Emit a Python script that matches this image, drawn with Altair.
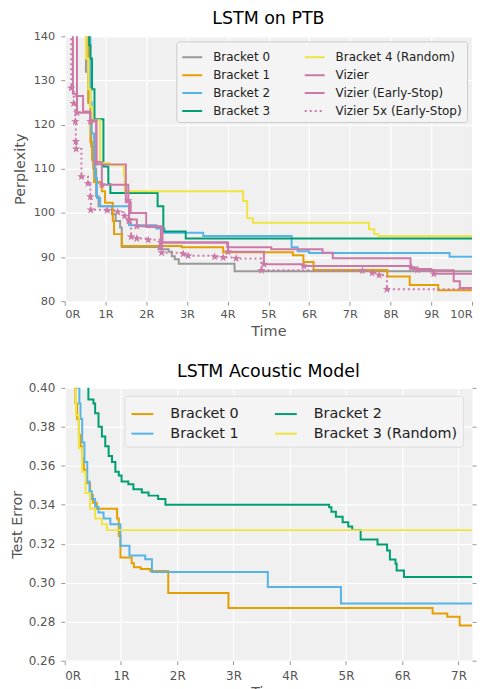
import altair as alt
import pandas as pd

# ---------------- LSTM on PTB (time in R units, perplexity) ----------------
ptb_b0_t = [0.45, 0.52, 0.58, 0.65, 0.70, 0.77, 0.83, 1.16, 1.25, 1.36, 1.40, 2.30, 2.55, 2.63, 2.70, 2.80, 4.17, 10.0]
ptb_b0_v = [145, 132, 125, 115, 110, 103.8, 101.5, 99.7, 98.2, 96.7, 92.3, 91.8, 91.2, 90.2, 89.5, 88.5, 86.8, 86.8]

ptb_b1_t = [0.50, 0.58, 0.63, 0.67, 0.72, 0.91, 0.99, 1.18, 1.21, 1.40, 2.87, 3.89, 5.60, 5.86, 6.11, 7.92, 8.47, 9.17, 10.0]
ptb_b1_v = [145, 125, 116, 112, 107, 104.9, 102.3, 98.2, 95.2, 92.5, 92.2, 91.1, 90.4, 88.9, 87.1, 85.6, 83.7, 82.5, 82.5]

ptb_b2_t = [0.60, 0.63, 0.66, 0.72, 0.75, 0.79, 0.87, 1.58, 2.25, 2.45, 3.40, 5.57, 5.72, 6.00, 9.45, 10.0]
ptb_b2_v = [145, 125, 118, 112, 107.9, 103.4, 101.5, 97.2, 96.5, 95.5, 94.8, 92.2, 91.3, 90.9, 90.1, 90.1]

ptb_b3_t = [0.55, 0.60, 0.63, 0.67, 0.73, 0.95, 1.07, 1.12, 2.28, 2.42, 2.97, 10.0]
ptb_b3_v = [145, 138, 135, 128, 121.2, 110.5, 106.5, 104.5, 101.5, 95.8, 94.2, 94.2]

ptb_b4_t = [0.45, 0.52, 0.58, 0.63, 0.67, 0.87, 1.10, 1.45, 1.47, 4.38, 4.48, 4.62, 7.47, 7.60, 7.70, 10.0]
ptb_b4_v = [145, 135, 128, 124, 121, 111.3, 110.8, 108.5, 104.9, 102.7, 98.8, 97.8, 96.3, 95.2, 94.8, 94.8]

ptb_viz_t = [0.15, 0.20, 0.28, 0.45, 0.62, 0.78, 1.50, 1.62, 2.00, 2.40, 3.99, 5.07, 6.33, 6.58, 8.49, 8.55, 9.00, 9.55, 9.70, 10.0]
ptb_viz_v = [150, 127, 126.5, 123, 121, 111, 102.5, 100, 96.8, 93.3, 92.2, 91.8, 91.0, 89.75, 87.6, 87.3, 87.0, 84.5, 83.0, 83.0]

ptb_es_t = [0.20, 0.30, 0.63, 0.77, 0.91, 1.56, 1.58, 1.77, 2.36, 4.01, 4.89, 5.87, 8.51, 8.66, 9.06, 10.0]
ptb_es_v = [145, 122.7, 120.7, 111.5, 106.4, 102.8, 98.5, 97.0, 93.3, 91.2, 88.4, 88.0, 87.6, 87.1, 86.2, 86.2]
ptb_es_m = [0, 1, 1, 1, 1, 1, 1, 1, 1, 1, 1, 1, 1, 1, 1, 0]

ptb_5x_t = [0.14, 0.16, 0.22, 0.26, 0.27, 0.28, 0.41, 0.57, 0.63, 0.64, 1.04, 1.30, 1.47, 1.58, 1.63,
            1.77, 2.05, 2.36, 2.38, 2.91, 3.03, 3.68, 3.89, 4.21, 4.83, 7.31, 7.55, 7.72, 7.91, 10.0]
ptb_5x_v = [145, 128.3, 124.8, 120.7, 116.2, 114.5, 108.2, 106.7, 103.7, 100.7, 100.6, 100.2, 99.3, 98.2, 94.6,
            94.2, 93.9, 92.3, 91.0, 90.7, 90.3, 90.1, 89.9, 89.7, 87.0, 86.9, 86.4, 85.9, 82.7, 82.7]
ptb_5x_m = [0, 1, 1, 1, 1, 1, 1, 1, 1, 1, 1, 1, 1, 1, 1,
            1, 1, 1, 1, 1, 1, 1, 1, 1, 1, 1, 1, 1, 1, 0]

# ---------------- LSTM Acoustic Model (time in R units, test error) ----------------
ac_b0_t = [0.16, 0.19, 0.22, 0.25, 0.28, 0.31, 0.34, 0.39, 0.45, 0.50, 0.57, 0.93, 0.96, 0.99, 1.19, 1.23, 1.35, 1.52, 1.84, 2.91, 6.54, 6.80, 7.02, 7.24]
ac_b0_v = [0.400, 0.392, 0.384, 0.376, 0.370, 0.364, 0.358, 0.351, 0.345, 0.341, 0.338, 0.333, 0.324, 0.313, 0.310, 0.308, 0.307, 0.306, 0.2947, 0.2871, 0.2842, 0.2825, 0.278, 0.278]

ac_b1_t = [0.19, 0.26, 0.28, 0.31, 0.35, 0.40, 0.44, 0.48, 0.54, 0.60, 0.69, 0.81, 0.99, 1.15, 1.43, 1.55, 3.61, 4.91, 7.24]
ac_b1_v = [0.400, 0.392, 0.384, 0.372, 0.362, 0.352, 0.347, 0.343, 0.339, 0.336, 0.333, 0.330, 0.319, 0.314, 0.312, 0.3055, 0.2978, 0.2893, 0.2893]

ac_b2_t = [0.40, 0.42, 0.51, 0.54, 0.60, 0.66, 0.72, 0.78, 0.84, 0.90, 0.96, 1.01, 1.13, 1.22, 1.37, 1.49, 1.66, 1.79,
           4.70, 4.74, 4.82, 4.94, 5.04, 5.11, 5.26, 5.56, 5.73, 5.78, 5.88, 5.90, 6.03, 7.24]
ac_b2_v = [0.400, 0.394, 0.392, 0.387, 0.380, 0.375, 0.370, 0.365, 0.362, 0.357, 0.355, 0.352, 0.3506, 0.348, 0.3463, 0.3447, 0.343, 0.340,
           0.3387, 0.3364, 0.3339, 0.331, 0.3288, 0.3271, 0.3222, 0.3196, 0.3165, 0.3119, 0.3097, 0.3063, 0.3029, 0.3029]

ac_b3_t = [0.17, 0.20, 0.25, 0.31, 0.37, 0.45, 0.54, 0.66, 0.75, 7.24]
ac_b3_v = [0.400, 0.386, 0.369, 0.357, 0.346, 0.338, 0.333, 0.330, 0.327, 0.327]

# legend order (filled column by column, 2 columns) and colours
TOP_ORDER = ["Bracket 0", "Bracket 1", "Bracket 2", "Bracket 3",
             "Bracket 4 (Random)", "Vizier", "Vizier (Early-Stop)", "Vizier 5x (Early-Stop)"]
TOP_COLORS = ["#999999", "#E69F00", "#56B4E9", "#009E73",
              "#F0E442", "#CC79A7", "#CC79A7", "#CC79A7"]
TOP_DASH = [[1, 0], [1, 0], [1, 0], [1, 0], [1, 0], [1, 0], [1, 0], [2, 3]]
BOT_ORDER = ["Bracket 0", "Bracket 1", "Bracket 2", "Bracket 3 (Random)"]
BOT_COLORS = ["#E69F00", "#56B4E9", "#009E73", "#F0E442"]

# five-pointed star marker as a custom symbol path
STAR = ("M0,-1L0.235,-0.324L0.951,-0.309L0.38,0.124L0.588,0.809L0,0.4"
        "L-0.588,0.809L-0.38,0.124L-0.951,-0.309L-0.235,-0.324Z")


def frame(items):
    rows = []
    for name, ts, vs, ms in items:
        for k, (t, v) in enumerate(zip(ts, vs)):
            rows.append({"series": name, "t": t, "v": v, "m": ms[k] if ms else 0})
    return pd.DataFrame(rows)


ptb_df = frame([
    ("Bracket 0", ptb_b0_t, ptb_b0_v, None),
    ("Bracket 1", ptb_b1_t, ptb_b1_v, None),
    ("Bracket 2", ptb_b2_t, ptb_b2_v, None),
    ("Bracket 3", ptb_b3_t, ptb_b3_v, None),
    ("Bracket 4 (Random)", ptb_b4_t, ptb_b4_v, None),
    ("Vizier", ptb_viz_t, ptb_viz_v, None),
    ("Vizier (Early-Stop)", ptb_es_t, ptb_es_v, ptb_es_m),
    ("Vizier 5x (Early-Stop)", ptb_5x_t, ptb_5x_v, ptb_5x_m),
])
ac_df = frame([
    ("Bracket 0", ac_b0_t, ac_b0_v, None),
    ("Bracket 1", ac_b1_t, ac_b1_v, None),
    ("Bracket 2", ac_b2_t, ac_b2_v, None),
    ("Bracket 3 (Random)", ac_b3_t, ac_b3_v, None),
])

FONT = "DejaVu Sans"

# ---------------- top chart ----------------
top_legend = alt.Legend(
    title=None, orient="none", legendX=112, legendY=5, columns=2, columnPadding=30,
    rowPadding=1, symbolType="stroke", symbolSize=400, symbolStrokeWidth=2,
    labelFontSize=12, labelOffset=10, labelFont=FONT, labelColor="#222222",
    padding=5, fillColor="#f4f4f4", strokeColor="#cccccc", cornerRadius=3, labelLimit=300)

top_lines = alt.Chart(ptb_df).mark_line(interpolate="step-after", strokeWidth=2, clip=True).encode(
    x=alt.X("t:Q", scale=alt.Scale(domain=[0, 10], nice=False),
            axis=alt.Axis(values=list(range(11)), labelExpr="datum.value + 'R'", title="Time",
                          labelFontSize=11.4, labelPadding=3, titlePadding=5)),
    y=alt.Y("v:Q", scale=alt.Scale(domain=[80, 140], nice=False, zero=False),
            axis=alt.Axis(values=[80, 90, 100, 110, 120, 130, 140], title="Perplexity",
                          labelFontSize=11.4, labelPadding=6, titlePadding=6)),
    color=alt.Color("series:N", scale=alt.Scale(domain=TOP_ORDER, range=TOP_COLORS), legend=top_legend),
    strokeDash=alt.StrokeDash("series:N", scale=alt.Scale(domain=TOP_ORDER, range=TOP_DASH), legend=top_legend),
)
top_stars = alt.Chart(ptb_df).transform_filter("datum.m == 1").mark_point(
    shape=STAR, filled=True, size=80, color="#CC79A7", opacity=1, clip=True).encode(
    x="t:Q", y="v:Q")
top = alt.layer(top_lines, top_stars).properties(
    width=409, height=266, title=alt.TitleParams("LSTM on PTB", offset=2.5))

# ---------------- bottom chart ----------------
bot_legend = alt.Legend(
    title=None, orient="none", legendX=60, legendY=8, columns=2, columnPadding=32,
    rowPadding=1, symbolType="stroke", symbolSize=484, symbolStrokeWidth=2,
    labelFontSize=14.4, labelOffset=16, labelFont=FONT, labelColor="#222222",
    padding=6, fillColor="#f4f4f4", strokeColor="#dddddd", cornerRadius=3, labelLimit=300)

bot_yscale = alt.Scale(domain=[0.26, 0.40], nice=False, zero=False)
bot_yvals = [0.26, 0.28, 0.30, 0.32, 0.34, 0.36, 0.38, 0.40]

bot_lines = alt.Chart(ac_df).mark_line(interpolate="step-after", strokeWidth=2, clip=True).encode(
    x=alt.X("t:Q", scale=alt.Scale(domain=[0, 7.24], nice=False),
            axis=alt.Axis(values=[0, 1, 2, 3, 4, 5, 6, 7], labelExpr="datum.value + 'R'", title="Time",
                          labelFontSize=12, labelPadding=6, titlePadding=4)),
    y=alt.Y("v:Q", scale=bot_yscale,
            axis=alt.Axis(values=bot_yvals, format=".2f", title="Test Error",
                          labelFontSize=12, labelPadding=6, titlePadding=4)),
    color=alt.Color("series:N", scale=alt.Scale(domain=BOT_ORDER, range=BOT_COLORS), legend=bot_legend),
)
bot_right = alt.Chart(ac_df).mark_line(strokeOpacity=0, clip=True).encode(
    x="t:Q",
    y=alt.Y("v:Q", scale=bot_yscale,
            axis=alt.Axis(orient="right", values=bot_yvals, labels=False, grid=False, title=None)),
    detail="series:N",
)
bottom = alt.layer(bot_lines, bot_right).resolve_axis(y="independent").properties(
    width=409, height=274, title=alt.TitleParams("LSTM Acoustic Model", offset=1.8))

chart = alt.vconcat(top, bottom, spacing=23).resolve_scale(
    color="independent", strokeDash="independent"
).properties(
    padding=0
).configure_view(
    fill="#f0f0f0", stroke="transparent"
).configure_axis(
    gridColor="white", gridWidth=1.2, domain=False, tickColor="#999999", tickSize=4,
    labelColor="#555555", titleColor="#555555", titleFontWeight="normal",
    labelFont=FONT, titleFont=FONT, titleFontSize=14.5,
).configure_title(
    font=FONT, fontSize=17.5, fontWeight="normal", color="black", anchor="middle"
)

chart.save("out.html", embed_options={"renderer": "svg", "actions": False})
